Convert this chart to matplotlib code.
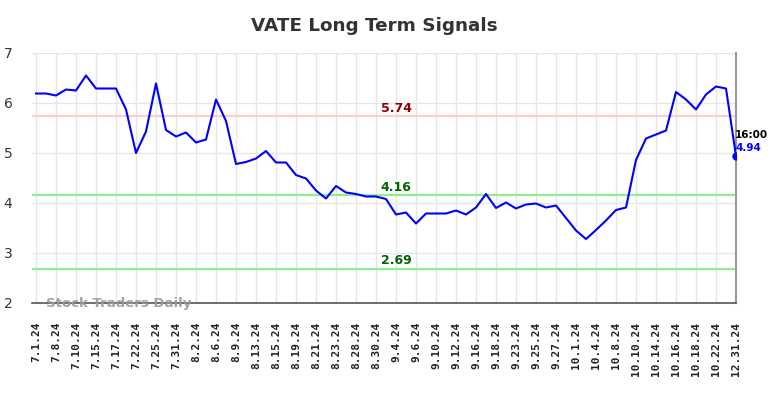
import matplotlib
matplotlib.use("Agg")
import matplotlib.pyplot as plt
import numpy as np

values = [6.19, 6.19, 6.15, 6.27, 6.25, 6.55, 6.29, 6.29, 6.29, 5.87,
          5.00, 5.43, 6.39, 5.46, 5.33, 5.41, 5.21, 5.27, 6.07, 5.64,
          4.78, 4.82, 4.89, 5.04, 4.81, 4.81, 4.56, 4.49, 4.25, 4.09,
          4.34, 4.21, 4.18, 4.13, 4.13, 4.08, 3.77, 3.81, 3.59, 3.79,
          3.79, 3.79, 3.85, 3.77, 3.91, 4.18, 3.90, 4.01, 3.89, 3.97,
          3.99, 3.91, 3.95, 3.70, 3.45, 3.28, 3.46, 3.65, 3.86, 3.91,
          4.86, 5.29, 5.37, 5.45, 6.22, 6.07, 5.87, 6.17, 6.33, 6.29,
          4.94]

tick_labels = ["7.1.24", "7.8.24", "7.10.24", "7.15.24", "7.17.24", "7.22.24",
               "7.25.24", "7.31.24", "8.2.24", "8.6.24", "8.9.24", "8.13.24",
               "8.15.24", "8.19.24", "8.21.24", "8.23.24", "8.28.24", "8.30.24",
               "9.4.24", "9.6.24", "9.10.24", "9.12.24", "9.16.24", "9.18.24",
               "9.23.24", "9.25.24", "9.27.24", "10.1.24", "10.4.24", "10.8.24",
               "10.10.24", "10.14.24", "10.16.24", "10.18.24", "10.22.24", "12.31.24"]

levels = [5.74, 4.16, 2.69]
level_line_colors = ["#ffcccc", "#90ee90", "#90ee90"]
level_text_colors = ["#8b0000", "#006400", "#006400"]

title = "VATE Long Term Signals"
last_time = "16:00"

fig = plt.figure(figsize=(7.84, 3.98), dpi=100)
ax = fig.add_axes([32/784, 1-303/398, (736-32)/784, 250/398])

x = np.arange(len(values))
ax.set_xlim(-0.4, len(values) - 1)
ax.set_ylim(2, 7)

tick_pos = x[::2]
ax.set_xticks(tick_pos)
ax.set_xticklabels(tick_labels, rotation=90, fontsize=8, fontweight="bold",
                   family="DejaVu Sans Mono", color="#222222")
ax.set_yticks([2, 3, 4, 5, 6, 7])
ax.tick_params(axis="y", labelsize=10, colors="#333333", length=0, pad=14)
ax.tick_params(axis="x", length=0, pad=13.5)

ax.grid(True, color="#e6e6e6", linewidth=1)
ax.set_axisbelow(True)

for s in ["top", "left"]:
    ax.spines[s].set_visible(False)
ax.spines["bottom"].set_color("#555555")
ax.spines["bottom"].set_linewidth(1.2)
ax.spines["right"].set_color("#999999")
ax.spines["right"].set_linewidth(1.5)

mid = 36
for lv, lc, tc in zip(levels, level_line_colors, level_text_colors):
    ax.axhline(lv, color=lc, linewidth=1.6, zorder=1)
    ax.text(mid, lv + 0.02, f"{lv:.2f}", color=tc, fontsize=9, fontweight="bold",
            ha="center", va="bottom")

ax.plot(x, values, color="#0000ff", linewidth=1.5, zorder=3)
ax.plot(x[-1], values[-1], "o", color="#0000ff", markersize=5, zorder=4)

ax.text(x[-1] - 0.1, values[-1] + 0.33, last_time, fontsize=7.5, fontweight="bold",
        color="#000000", ha="left", va="bottom", clip_on=False)
ax.text(x[-1] - 0.1, values[-1] + 0.06, f"{values[-1]:.2f}", fontsize=7.5,
        fontweight="bold", color="#0000ff", ha="left", va="bottom", clip_on=False)

ax.text(1.0, 2.0, "Stock Traders Daily", fontsize=9.5, fontweight="bold",
        color="#999999", ha="left", va="center", alpha=0.9)

fig.text(374.5/784, 1 - 26/398, title, ha="center", va="center", fontsize=13.2,
         fontweight="bold", color="#333333")

fig.savefig("out.png", dpi=100)
